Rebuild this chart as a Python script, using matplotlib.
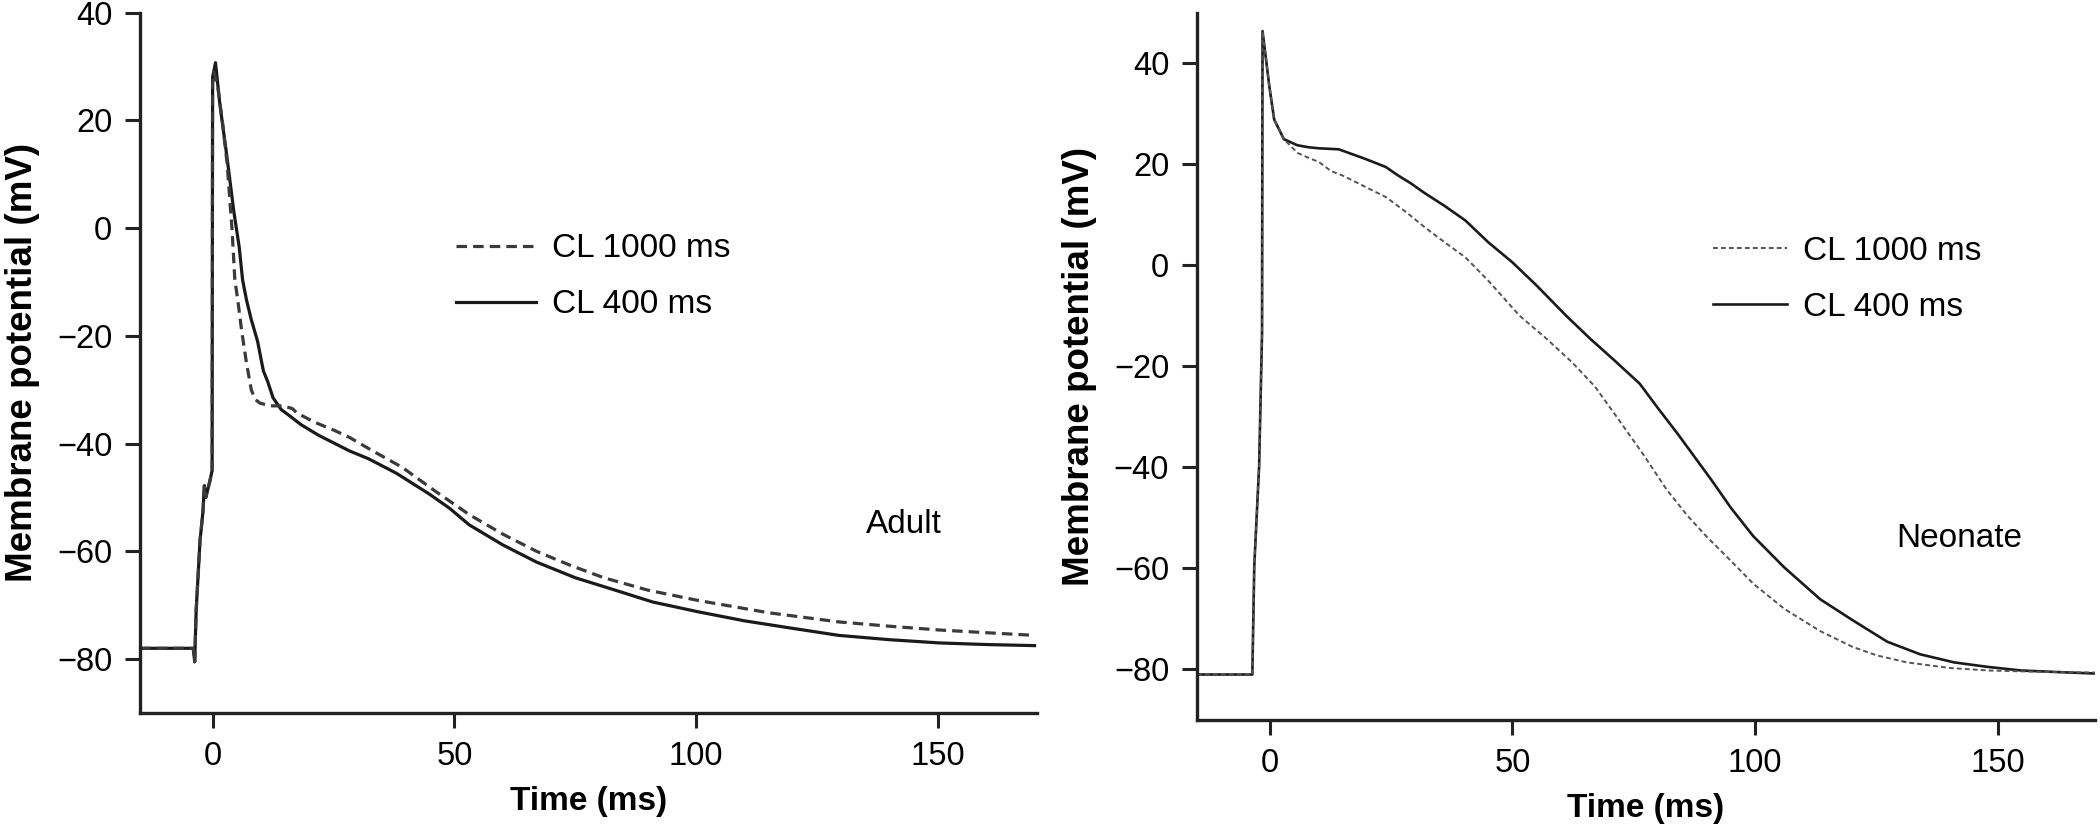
import numpy as np
import matplotlib
matplotlib.use("Agg")
import matplotlib.pyplot as plt

plt.rcParams['font.family'] = ['Liberation Sans', 'DejaVu Sans']

# --- dane (czas w ms, potencjal w mV) ---
# Adult, CL 400 ms (linia ciagla)
adult_400_t = [-15, -4, -3.7, -3.4, -2.6, -2.0, -1.7, -1.4, -0.6, -0.1, 0.0, 0.6, 1.5, 3, 4.4,
               5.5, 6.2, 7, 8, 9.3, 10.5, 11.4, 12.5, 14.2, 16, 18.3, 22, 28.4, 32.2, 38, 44.7,
               49, 53.1, 60, 67, 75, 83.6, 91, 100.3, 110, 120, 129.5, 140, 150.3, 160, 170]
adult_400_v = [-78, -78, -80.5, -71, -58, -52.7, -47.8, -50, -47.1, -45, 28, 30.7, 23, 13, 3,
               -3.5, -9.6, -13.3, -17, -21, -26.5, -28.5, -31.5, -33.7, -34.9, -36.5, -38.5, -41.4, -42.8, -45.5, -49.3,
               -52, -55.1, -58.8, -62, -64.9, -67.3, -69.4, -71.2, -72.9, -74.3, -75.6, -76.4, -77, -77.3, -77.5]

# Adult, CL 1000 ms (linia przerywana)
adult_1000_t = [-15, -4, -3.7, -3.4, -2.6, -2.0, -1.7, -1.4, -0.6, -0.1, 0.0, 0.3, 1.1, 2, 3, 4,
                4.6, 5.2, 6, 7, 8, 8.8, 9.8, 12, 14.5, 16.5, 17.4, 21, 25.3, 28.4, 33, 39.2, 46,
                53.1, 60, 67, 74, 80.9, 90, 100.3, 115, 129.5, 140, 150.3, 160, 170]
adult_1000_v = [-78, -78, -80.5, -71, -58, -52.7, -47.8, -50, -47.1, -45, 27, 29, 26, 20, 12, 0,
                -9.6, -13.3, -19, -25, -30, -31.8, -32.5, -33, -33, -33.5, -34.3, -36, -37.6, -38.9, -41.3, -44.4, -48.8,
                -53.2, -56.8, -60, -62.6, -64.9, -67.2, -69.1, -71.4, -73.1, -73.9, -74.6, -75.1, -75.6]

# Neonate, CL 400 ms (linia ciagla)
neo_400_t = [-15, -3.6, -3.2, -2.2, -1.6, -1.5, -0.1, 0.9, 2.9, 5.7, 8, 10.1, 14.2, 19.4, 23.9,
             26.3, 29, 31.8, 36, 40.3, 45, 50, 55, 61, 66, 71, 76.2, 80, 84, 87.2, 91, 95, 99.6,
             106, 113.4, 120, 127.2, 134, 141, 148, 154.8, 162, 170]
neo_400_v = [-81, -81, -59.5, -39.7, -13.3, 46.4, 35.5, 28.9, 25, 23.8, 23.4, 23.2, 23, 21.2, 19.5,
             17.9, 16.3, 14.4, 11.8, 8.9, 4.6, 0.6, -4, -9.9, -14.5, -18.8, -23.4, -28.3, -33.3, -37.5, -42.5, -48, -53.6,
             -59.8, -66.1, -70.2, -74.5, -77, -78.6, -79.5, -80.2, -80.5, -80.8]

# Neonate, CL 1000 ms (linia kropkowana)
neo_1000_t = [-15, -3.6, -3.2, -2.2, -1.6, -1.5, -0.1, 0.9, 2.9, 5.7, 8, 10.1, 12.6, 15, 19.4, 24,
              28.3, 32, 36, 40.3, 45, 51.4, 57, 62.3, 67, 72, 77, 81.7, 86, 89.9, 95, 99.6,
              106, 113.4, 120, 125, 131.3, 140, 148, 160, 170]
neo_1000_v = [-81, -81, -59.5, -39.7, -13.3, 46.4, 35.5, 28.9, 25, 22.3, 21.3, 20.5, 18.7, 17.8, 15.7, 13.5,
              10.4, 7.5, 4.6, 1.6, -3, -9.9, -14.5, -19.2, -24, -30.7, -37.5, -44.3, -49.5, -53.6, -58.5, -63,
              -68, -72.4, -75.5, -77.2, -78.6, -79.7, -80.2, -80.5, -80.6]

labels = ['CL 1000 ms', 'CL 400 ms']
yticks = [40, 20, 0, -20, -40, -60, -80]
xticks = [0, 50, 100, 150]

FS = 23.5
ink = '#222222'


def style_axes(ax):
    for s in ['top', 'right']:
        ax.spines[s].set_visible(False)
    for s in ['left', 'bottom']:
        ax.spines[s].set_linewidth(2.4)
        ax.spines[s].set_color(ink)
    ax.tick_params(direction='out', length=11, width=2.2, color=ink,
                   labelsize=FS, pad=9)
    ax.set_xticks(xticks)
    ax.set_yticks(yticks)
    ax.set_xlabel('Time (ms)', fontsize=24, fontweight='bold', labelpad=10)
    ax.set_ylabel('Membrane potential (mV)', fontsize=26.5, fontweight='bold', labelpad=12)


fig = plt.figure(figsize=(21, 8.25), dpi=100)

# panel lewy - Adult
ax1 = fig.add_axes([0.0667, 0.1358, 0.4271, 0.849])
ax1.plot(adult_400_t, adult_400_v, color='#1a1a1a', lw=2.3, label=labels[1])
ax1.plot(adult_1000_t, adult_1000_v, color='#3a3a3a', lw=2.3, dashes=(3.3, 1.9), label=labels[0])
ax1.set_xlim(-15, 170.5)
ax1.set_ylim(-90, 40)
style_axes(ax1)
h, l = ax1.get_legend_handles_labels()
ax1.legend(h[::-1], l[::-1], loc='upper left', bbox_to_anchor=(0.352, 0.685), frameon=False,
           fontsize=24, handlelength=2.4, handletextpad=0.5, labelspacing=0.75,
           borderpad=0, borderaxespad=0)
ax1.text(143, -55, 'Adult', fontsize=24, ha='center', va='center')

# panel prawy - Neonate
ax2 = fig.add_axes([0.57, 0.1273, 0.4276, 0.857])
ax2.plot(neo_400_t, neo_400_v, color='#1a1a1a', lw=1.9, label=labels[1])
ax2.plot(neo_1000_t, neo_1000_v, color='#555555', lw=1.4, dashes=(2.5, 1.6), label=labels[0])
ax2.set_xlim(-15, 170)
ax2.set_ylim(-90, 50)
style_axes(ax2)
h, l = ax2.get_legend_handles_labels()
ax2.legend(h[::-1], l[::-1], loc='upper left', bbox_to_anchor=(0.575, 0.685), frameon=False,
           fontsize=24, handlelength=2.2, handletextpad=0.5, labelspacing=0.75,
           borderpad=0, borderaxespad=0)
ax2.text(142, -54, 'Neonate', fontsize=24, ha='center', va='center')

fig.savefig('out.png', dpi=100)
